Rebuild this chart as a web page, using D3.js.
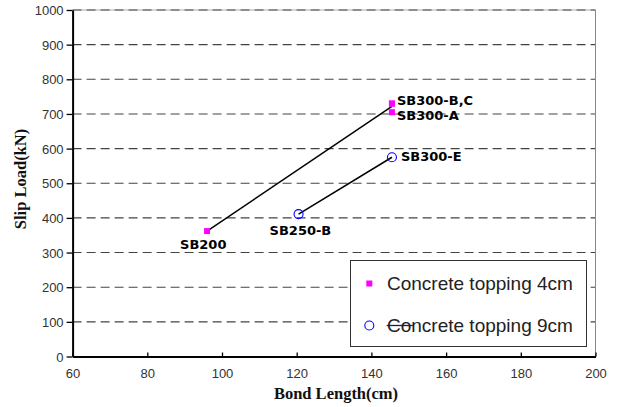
<!DOCTYPE html>
<html>
<head>
<meta charset="utf-8">
<script src="https://cdn.jsdelivr.net/npm/d3@7"></script>
<style>
  html, body { margin: 0; padding: 0; background: #fff; }
  svg { display: block; }
</style>
</head>
<body>
<svg id="chart" width="621" height="407"></svg>
<script>
// Specimens with 4 cm concrete topping
const top4Names  = ["SB200", "SB300-A", "SB300-B", "SB300-C"];
const top4Length = [96, 145.5, 145.5, 145.5];
const top4Load   = [362, 705, 730, 730];

// Specimens with 9 cm concrete topping
const top9Names  = ["SB250-B", "SB300-E"];
const top9Length = [120.5, 145.5];
const top9Load   = [411, 575];

// Point labels (SB300-B and SB300-C share one label)
const labelText   = ["SB200", "SB300-A", "SB300-B,C", "SB250-B", "SB300-E"];
const labelLength = [96, 145.5, 145.5, 120.5, 145.5];
const labelLoad   = [362, 705, 730, 411, 575];

const xTicks = [60, 80, 100, 120, 140, 160, 180, 200];
const yTicks = [0, 100, 200, 300, 400, 500, 600, 700, 800, 900, 1000];
const legendNames = ["Concrete topping 4cm", "Concrete topping 9cm"];

const svg = d3.select("#chart");
const L = 72.6, R = 595.5, T = 10, B = 356.5;

const x = d3.scaleLinear().domain([60, 200]).range([L, R]);
const y = d3.scaleLinear().domain([0, 1000]).range([B, T]);

// Horizontal dashed grid
svg.append("g").selectAll("line")
  .data(yTicks.filter(v => v > 0 && v < 1000))
  .join("line")
  .attr("x1", L).attr("x2", R)
  .attr("y1", d => y(d)).attr("y2", d => y(d))
  .attr("stroke", "#444").attr("stroke-width", 1.1)
  .attr("stroke-dasharray", "9,5");

// Top frame line (dashed grey) and right frame line
svg.append("line").attr("x1", L).attr("x2", R).attr("y1", y(1000)).attr("y2", y(1000))
  .attr("stroke", "#c8c8c8").attr("stroke-width", 1.6);
svg.append("line").attr("x1", L).attr("x2", R).attr("y1", y(1000)).attr("y2", y(1000))
  .attr("stroke", "#777").attr("stroke-width", 1.6).attr("stroke-dasharray", "9,5");
svg.append("line").attr("x1", R).attr("x2", R).attr("y1", T).attr("y2", B)
  .attr("stroke", "#888").attr("stroke-width", 1);

// Axes
const xAxis = svg.append("g").attr("transform", `translate(0,${B})`)
  .call(d3.axisBottom(x).tickValues(xTicks).tickFormat(d3.format("d"))
    .tickSizeInner(-4).tickSizeOuter(0).tickPadding(12));
const yAxis = svg.append("g").attr("transform", `translate(${L},0)`)
  .call(d3.axisLeft(y).tickValues(yTicks).tickFormat(d3.format("d"))
    .tickSizeInner(6).tickSizeOuter(0).tickPadding(3));

[xAxis, yAxis].forEach(a => {
  a.select(".domain").attr("stroke", "#000").attr("stroke-width", 2);
  a.selectAll(".tick line").attr("stroke", "#000").attr("stroke-width", 1.3);
  a.selectAll(".tick text")
    .attr("font-family", "Liberation Sans, Arial, sans-serif")
    .attr("font-size", 13).attr("fill", "#333");
});
yAxis.selectAll(".tick text").attr("dy", "0.35em");

// Axis titles
svg.append("text")
  .attr("x", 336).attr("y", 399)
  .attr("text-anchor", "middle")
  .attr("font-family", "Liberation Serif, Times New Roman, serif")
  .attr("font-weight", "bold").attr("font-size", 16.5).attr("fill", "#111")
  .text("Bond Length(cm)");
svg.append("text")
  .attr("transform", `translate(26,179) rotate(-90)`)
  .attr("text-anchor", "middle")
  .attr("font-family", "Liberation Serif, Times New Roman, serif")
  .attr("font-weight", "bold").attr("font-size", 16.5).attr("fill", "#111")
  .text("Slip Load(kN)");

// Trend lines: connect the mean load at each bond length
function meanLine(lengths, loads) {
  const groups = d3.rollups(lengths.map((l, i) => [l, loads[i]]),
    v => d3.mean(v, d => d[1]), d => d[0]);
  return groups.sort((a, b) => a[0] - b[0]);
}
const line = d3.line().x(d => x(d[0])).y(d => y(d[1]));
svg.append("path").datum(meanLine(top4Length, top4Load))
  .attr("d", line).attr("fill", "none").attr("stroke", "#000").attr("stroke-width", 1.5);
svg.append("path").datum(meanLine(top9Length, top9Load))
  .attr("d", line).attr("fill", "none").attr("stroke", "#000").attr("stroke-width", 1.5);

// Markers
const sq = 6;
svg.append("g").selectAll("rect")
  .data(top4Length.map((l, i) => [l, top4Load[i]]))
  .join("rect")
  .attr("x", d => x(d[0]) - sq / 2).attr("y", d => y(d[1]) - sq / 2)
  .attr("width", sq).attr("height", sq).attr("fill", "#ff00ff");
svg.append("g").selectAll("circle")
  .data(top9Length.map((l, i) => [l, top9Load[i]]))
  .join("circle")
  .attr("cx", d => x(d[0])).attr("cy", d => y(d[1])).attr("r", 4.5)
  .attr("fill", "none").attr("stroke", "#0000ff").attr("stroke-width", 1.1);

// Point labels
const labelOffset = {
  "SB200":     [-27, 18],
  "SB300-A":   [5, 7.5],
  "SB300-B,C": [5, 1.5],
  "SB250-B":   [-29, 21],
  "SB300-E":   [9, 4]
};
svg.append("g").selectAll("text")
  .data(labelText.map((t, i) => [t, labelLength[i], labelLoad[i]]))
  .join("text")
  .attr("x", d => x(d[1]) + labelOffset[d[0]][0])
  .attr("y", d => y(d[2]) + labelOffset[d[0]][1])
  .attr("font-family", "DejaVu Sans, sans-serif")
  .attr("font-size", 13).attr("font-weight", "bold").attr("fill", "#000")
  .text(d => d[0]);

// Legend
const lg = svg.append("g");
lg.append("rect").attr("x", 350.5).attr("y", 260.5).attr("width", 236).attr("height", 86)
  .attr("fill", "#fff").attr("stroke", "#333").attr("stroke-width", 1);
const legendY = [283.5, 325.5];
lg.append("rect").attr("x", 369.3 - sq / 2).attr("y", legendY[0] - sq / 2)
  .attr("width", sq).attr("height", sq).attr("fill", "#ff00ff");
lg.append("circle").attr("cx", 369.3).attr("cy", legendY[1]).attr("r", 4.5)
  .attr("fill", "none").attr("stroke", "#0000ff").attr("stroke-width", 1.1);
lg.selectAll("text").data(legendNames).join("text")
  .attr("x", 387).attr("y", (d, i) => legendY[i]).attr("dy", "0.36em")
  .attr("font-family", "Liberation Sans, Arial, sans-serif")
  .attr("font-size", 19).attr("fill", "#222")
  .text(d => d);
lg.append("line").attr("x1", 386.7).attr("x2", 412.7)
  .attr("y1", legendY[1]).attr("y2", legendY[1])
  .attr("stroke", "#1a1a5e").attr("stroke-width", 1.3);
</script>
</body>
</html>
